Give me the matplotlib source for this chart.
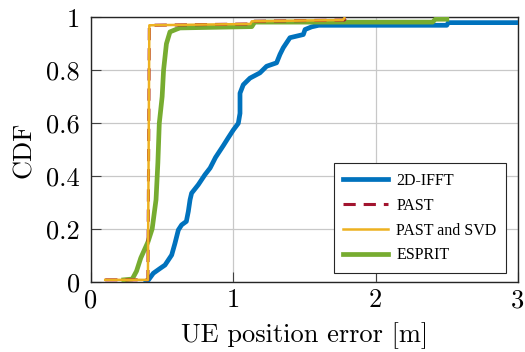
import matplotlib
matplotlib.use("Agg")
import matplotlib.pyplot as plt

# 2D-IFFT
ifft_x = [0.39, 0.403, 0.438, 0.485, 0.52, 0.567, 0.59, 0.614, 0.637, 0.67, 0.684, 0.696, 0.707, 0.754,
          0.801, 0.837, 0.875, 0.93, 0.965, 1.0, 1.035, 1.047, 1.047, 1.07, 1.117, 1.187, 1.234, 1.304,
          1.328, 1.351, 1.398, 1.492, 1.504, 1.55, 1.60, 2.50, 2.51, 3.0]
ifft_y = [0.0, 0.006, 0.032, 0.05, 0.063, 0.101, 0.145, 0.196, 0.215, 0.228, 0.266, 0.31, 0.335, 0.367,
          0.405, 0.43, 0.47, 0.515, 0.545, 0.574, 0.599, 0.637, 0.713, 0.745, 0.77, 0.79, 0.815, 0.828,
          0.86, 0.885, 0.923, 0.935, 0.954, 0.964, 0.97, 0.97, 0.98, 0.98]
# PAST
past_x = [0.10, 0.40, 0.41, 1.12, 1.13, 1.78, 1.79, 1.80]
past_y = [0.007, 0.007, 0.97, 0.975, 0.985, 0.99, 0.997, 0.997]
# PAST and SVD
svd_x = [0.10, 0.40, 0.41, 1.12, 1.13, 1.77, 1.78]
svd_y = [0.007, 0.007, 0.97, 0.975, 0.985, 0.99, 0.997]
# ESPRIT
esprit_x = [0.23, 0.29, 0.32, 0.35, 0.40, 0.43, 0.457, 0.47, 0.48, 0.50, 0.51, 0.53, 0.555, 0.60, 0.625,
            1.13, 1.15, 2.40, 2.42, 2.50]
esprit_y = [0.007, 0.01, 0.04, 0.09, 0.15, 0.20, 0.31, 0.45, 0.60, 0.70, 0.80, 0.90, 0.945, 0.955, 0.96,
            0.965, 0.982, 0.982, 0.993, 0.993]

xticks = [0, 1, 2, 3]
xtick_labels = ["0", "1", "2", "3"]
yticks = [0, 0.2, 0.4, 0.6, 0.8, 1]
ytick_labels = ["0", "0.2", "0.4", "0.6", "0.8", "1"]

plt.rcParams['font.family'] = ['Liberation Serif', 'DejaVu Serif']

fig = plt.figure(figsize=(5.25, 3.52), dpi=100)
ax = fig.add_axes([0.1733, 0.1997, 0.8133, 0.751])

ax.plot(ifft_x, ifft_y, color='#0072BD', lw=3.4, label='2D-IFFT', zorder=3)
ax.plot(past_x, past_y, color='#A2142F', lw=2.2, ls=(0, (4, 2.6)), label='PAST', zorder=4)
ax.plot(svd_x, svd_y, color='#EDB120', lw=1.8, label='PAST and SVD', zorder=5)
ax.plot(esprit_x, esprit_y, color='#77AC30', lw=3.4, label='ESPRIT', zorder=3)

ax.set_xlim(0, 3)
ax.set_ylim(0, 1)
ax.set_xticks(xticks)
ax.set_xticklabels(xtick_labels, fontfamily='cmr10', fontsize=19)
ax.set_yticks(yticks)
ax.set_yticklabels(ytick_labels, fontfamily='cmr10', fontsize=19)
ax.tick_params(direction='in', length=7, width=0.8, color='#404040', pad=5)
ax.tick_params(axis='y', pad=8)
ax.grid(True, color='#c8c8c8', lw=0.9)
ax.set_axisbelow(True)
for s in ax.spines.values():
    s.set_linewidth(1.0)
    s.set_color('#262626')
ax.set_xlabel('UE position error [m]', fontfamily='cmr10', fontsize=19, labelpad=7)
ax.set_ylabel('CDF', fontfamily='cmr10', fontsize=19, labelpad=7)

leg = ax.legend(loc='lower right', bbox_to_anchor=(0.972, 0.033), borderaxespad=0,
                prop={'family': 'Liberation Serif', 'size': 11.5}, frameon=True, fancybox=False,
                edgecolor='#262626', framealpha=1, handlelength=2.8, borderpad=0.6, labelspacing=0.55,
                handletextpad=0.5)
leg.get_frame().set_linewidth(0.8)

fig.savefig('out.png', dpi=100)
